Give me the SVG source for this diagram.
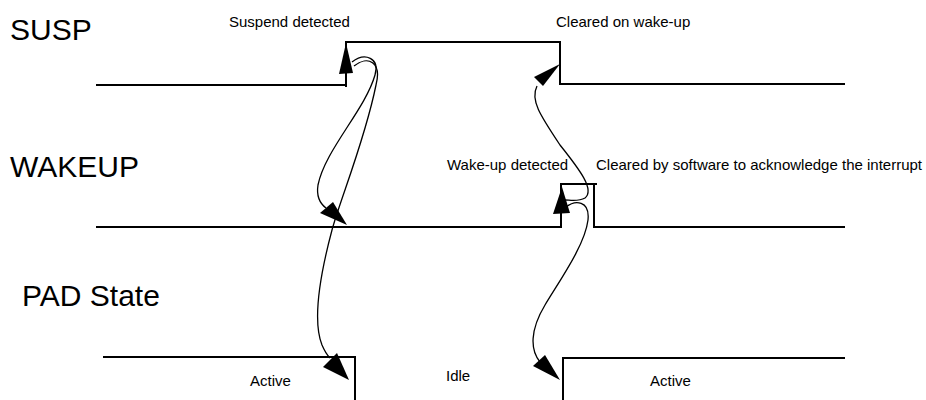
<svg xmlns="http://www.w3.org/2000/svg" width="926" height="400" viewBox="0 0 926 400">
<style>
.sig{fill:none;stroke:#000;stroke-width:2}
.cur{fill:none;stroke:#000;stroke-width:1.3}
.ah{fill:#000;stroke:none}
.big{font-family:"Liberation Sans",Arial,sans-serif;font-size:30px;fill:#000}
.sm{font-family:"Liberation Sans",Arial,sans-serif;font-size:15px;fill:#000}
</style>
<rect width="926" height="400" fill="#fff"/>
<g id="susp">
<text class="big" x="10" y="40">SUSP</text>
<path class="sig" d="M96 85 H346 M346 87 V42 H560 V84 H845"/>
<text class="sm" x="229" y="27">Suspend detected</text>
<text class="sm" x="556" y="27">Cleared on wake-up</text>
</g>
<g id="wakeup">
<text class="big" x="10" y="177">WAKEUP</text>
<path class="sig" d="M96 227 H561 V184 H597 M594 184 V227 H845"/>
<text class="sm" x="447" y="170">Wake-up detected</text>
<text class="sm" x="596" y="170">Cleared by software to acknowledge the interrupt</text>
</g>
<g id="pad">
<text class="big" x="22" y="306">PAD State</text>
<path class="sig" d="M103 357 H355 V400 M563 400 V358 H845"/>
<text class="sm" x="250" y="386">Active</text>
<text class="sm" x="446" y="381">Idle</text>
<text class="sm" x="650" y="386">Active</text>
</g>
<g id="connectors">
<path class="cur" d="M352 62 C365 52 380 58 375 75 C365 110 325 150 318 185 C316 198 322 205 326 208"/>
<path class="cur" d="M354 66 C368 55 382 62 376 85 C365 140 340 200 332 230 C320 275 312 320 322 345 C325 352 328 356 330 358"/>
<path class="cur" d="M537 86 C530 100 540 115 560 145 C580 170 595 190 585 198 C578 202 570 200 565 200"/>
<path class="cur" d="M566 207 C575 200 590 200 588 220 C585 245 560 280 545 305 C530 330 530 350 540 362"/>
<polygon class="ah" points="346,43 339,74 353,73"/>
<polygon class="ah" points="320,213 333,202 347,225"/>
<polygon class="ah" points="323,367 337,353 349,380"/>
<polygon class="ah" points="560,64 534,77 543,86"/>
<polygon class="ah" points="562,187 553,214 570,213"/>
<polygon class="ah" points="533,366 545,355 560,380"/>
</g>
</svg>
